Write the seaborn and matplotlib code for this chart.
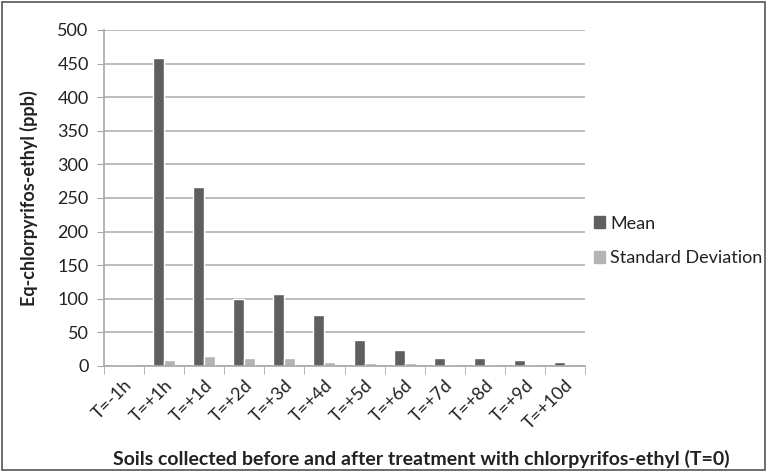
import numpy as np
import pandas as pd
import matplotlib
matplotlib.use("Agg")
import matplotlib.pyplot as plt
import seaborn as sns
from matplotlib.patches import Rectangle

# data
times = ["T=-1h", "T=+1h", "T=+1d", "T=+2d", "T=+3d", "T=+4d",
         "T=+5d", "T=+6d", "T=+7d", "T=+8d", "T=+9d", "T=+10d"]
mean_vals = [2, 458, 267, 100, 107, 76, 38, 23.5, 11.5, 11.5, 8.5, 5.5]
sd_vals = [1.5, 8.5, 14.5, 12, 12, 6, 4.5, 4.5, 2, 2, 2, 0.5]
series = ["Mean", "Standard Deviation"]
colors = ["#5f5f5f", "#b4b4b4"]

df = pd.DataFrame({
    "time": times * 2,
    "value": mean_vals + sd_vals,
    "series": [series[0]] * len(times) + [series[1]] * len(times),
})

sns.set_style("white")
plt.rcParams["font.family"] = ["Lato", "DejaVu Sans"]

fig = plt.figure(figsize=(7.67, 4.72), dpi=100)
ax = fig.add_axes([104 / 767, 1 - 366 / 472, (585 - 104) / 767, (366 - 30) / 472])

sns.barplot(data=df, x="time", y="value", hue="series", order=times,
            hue_order=series, palette=colors, width=0.55, saturation=1,
            ax=ax, legend=False)

ax.set_ylim(0, 500)
ax.set_xlim(-0.5, len(times) - 0.5)
ax.set_yticks(np.arange(0, 501, 50))
ax.yaxis.grid(True, color="#b0b0b0", linewidth=1.2)
ax.set_axisbelow(True)

for s in ["top", "right"]:
    ax.spines[s].set_visible(False)
for s in ["left", "bottom"]:
    ax.spines[s].set_color("#a8a8a8")
    ax.spines[s].set_linewidth(1.2)

ax.tick_params(axis="y", which="major", length=5, color="#a8a8a8",
               labelsize=13, labelcolor="#222222", pad=6, left=True)
ax.tick_params(axis="x", which="major", length=0, labelsize=13,
               labelcolor="#222222", pad=8)
ax.set_xticks(np.arange(-0.5, len(times), 1), minor=True)
ax.tick_params(axis="x", which="minor", length=6, color="#a8a8a8", bottom=True)
for lbl in ax.get_xticklabels():
    lbl.set_rotation(45)
    lbl.set_ha("right")
    lbl.set_rotation_mode("anchor")

ax.set_xlabel("Soils collected before and after treatment with chlorpyrifos-ethyl (T=0)",
              fontsize=14, fontweight="bold", color="#222222")
ax.xaxis.set_label_coords(0.66, -0.25)
ax.set_ylabel("Eq-chlorpyrifos-ethyl (ppb)", fontsize=13, fontweight="bold",
              color="#222222")
ax.yaxis.set_label_coords(-0.137, 0.5)

# legend on the right, like the spreadsheet chart
handles = [Rectangle((0, 0), 1, 1, color=c) for c in colors]
fig.legend(handles, series, loc="center left", bbox_to_anchor=(578 / 767, 1 - 241 / 472),
           frameon=False, fontsize=13, handlelength=0.6, handleheight=0.6,
           handletextpad=0.3, labelspacing=1.05, labelcolor="#222222")

# chart area border
fig.patches.append(Rectangle((2 / 767, 2 / 472), 763 / 767, 468 / 472,
                             transform=fig.transFigure, fill=False,
                             edgecolor="#555555", linewidth=1.2))

fig.savefig("out.png", dpi=100)
